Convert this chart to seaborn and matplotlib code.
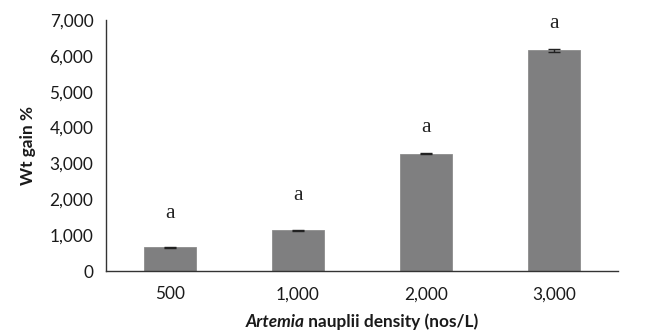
import matplotlib
matplotlib.use("Agg")
import matplotlib.pyplot as plt
from matplotlib.ticker import FuncFormatter, FixedLocator
import seaborn as sns
import pandas as pd

categories = ["500", "1,000", "2,000", "3,000"]
wt_gain = [665, 1140, 3270, 6150]
errors = [18, 15, 15, 30]
letters = ["a", "a", "a", "a"]
letter_y = [1615, 2095, 3990, 6915]

df = pd.DataFrame({"density": categories, "gain": wt_gain})

sns.set_style("white")
plt.rcParams["font.family"] = ["Lato", "DejaVu Sans"]

TXT = "#1a1a1a"
FS = 12.4
fig = plt.figure(figsize=(6.54, 3.33), dpi=100)
ax = fig.add_axes([0.162, 0.186, 0.783, 0.754])

sns.barplot(data=df, x="density", y="gain", color="#7f7f80", saturation=1,
            width=0.4, errorbar=None, ax=ax, edgecolor="#8c8c8c", linewidth=0.6)

xpos = list(range(len(categories)))
ax.errorbar(xpos, wt_gain, yerr=errors, fmt="none", ecolor="#222222",
            elinewidth=1.0, capsize=4, capthick=1.0)

for x, y, t in zip(xpos, letter_y, letters):
    ax.text(x, y, t, ha="center", va="center", fontsize=15.5,
            family=["Liberation Serif", "DejaVu Serif"], color="#222222")

ax.set_xlim(-0.5, len(categories) - 0.5)
ax.set_ylim(0, 7000)
ax.set_yticks(range(0, 7001, 1000))
ax.yaxis.set_major_formatter(FuncFormatter(lambda v, p: f"{int(v):,}"))

ax.xaxis.set_minor_locator(FixedLocator([i - 0.5 for i in range(len(categories) + 1)]))
ax.tick_params(axis="x", which="major", length=0, pad=11, labelsize=FS, colors=TXT)
ax.tick_params(axis="x", which="minor", length=6, width=1, color="#333333", direction="out")
ax.tick_params(axis="y", which="major", length=6, width=1, color="#333333", direction="out",
               labelsize=FS, labelcolor=TXT, pad=3)

for s in ["top", "right"]:
    ax.spines[s].set_visible(False)
for s in ["left", "bottom"]:
    ax.spines[s].set_color("#333333")
    ax.spines[s].set_linewidth(1.0)

ax.set_xlabel("")
ax.set_ylabel("Wt gain %", fontsize=FS, fontweight="bold", color=TXT, labelpad=10)

# x-axis label with italic "Artemia"
fig.canvas.draw()
renderer = fig.canvas.get_renderer()
ylab = 1 - 322 / 333
t1 = fig.text(0, ylab, "Artemia", fontsize=FS, fontweight="bold", style="italic",
              color=TXT, va="center", ha="left")
t2 = fig.text(0, ylab, " nauplii density (nos/L)", fontsize=FS, fontweight="bold",
              color=TXT, va="center", ha="left")
w1 = t1.get_window_extent(renderer).width / fig.bbox.width
w2 = t2.get_window_extent(renderer).width / fig.bbox.width
cx = 0.162 + 0.783 / 2
start = cx - (w1 + w2) / 2
t1.set_x(start)
t2.set_x(start + w1)

fig.savefig("out.png", dpi=100)
